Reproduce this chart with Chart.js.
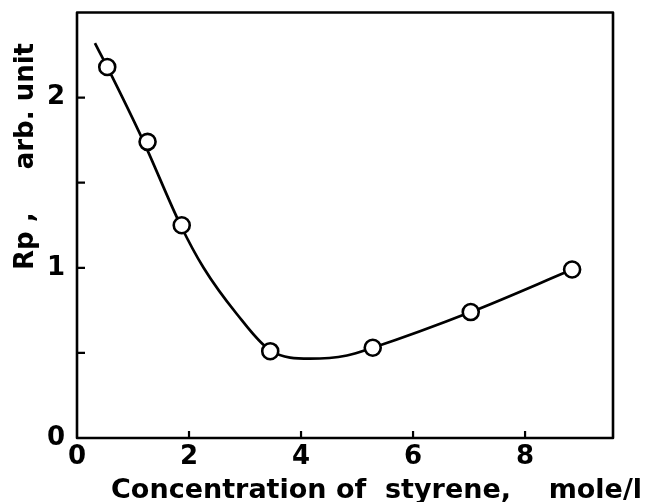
<!DOCTYPE html>
<html lang="en">
<head>
<meta charset="UTF-8">
<title>Rp vs concentration of styrene</title>
<script src="https://cdn.jsdelivr.net/npm/chart.js"></script>
<style>
  html, body { margin: 0; padding: 0; background: #fff; }
  #wrap { width: 645px; height: 502px; }
</style>
</head>
<body>
<div id="wrap"><canvas id="rpChart"></canvas></div>
<script>
// measured points (open circles)
const concPts = [0.54, 1.26, 1.87, 3.45, 5.28, 7.03, 8.84];
const rpPts   = [2.18, 1.74, 1.25, 0.51, 0.53, 0.74, 0.99];
// the drawn fit curve (it does not hit every circle centre)
const concCurve = [0.32, 0.54, 1.19, 1.85, 2.26, 2.85, 3.45, 4.16, 4.82, 5.28, 7.03, 8.84];
const rpCurve   = [2.32, 2.18, 1.74, 1.25, 1.00, 0.73, 0.515, 0.466, 0.485, 0.53, 0.74, 0.99];
// labelled ticks
const xTicks = [0, 2, 4, 6, 8];
const yTicks = [0, 1, 2];

const FONT = '"DejaVu Sans", sans-serif';

// box around the plot, inward tick marks and the two axis titles
const framePlugin = {
  id: 'frame',
  afterDraw(chart) {
    const ctx = chart.ctx;
    const a = chart.chartArea;
    const xs = chart.scales.x, ys = chart.scales.y;
    ctx.save();
    ctx.strokeStyle = '#000';
    ctx.lineWidth = 2.6;
    ctx.lineJoin = 'round';
    ctx.strokeRect(a.left, a.top, a.right - a.left, a.bottom - a.top);

    ctx.lineWidth = 2.2;
    ctx.beginPath();
    xs.ticks.forEach(t => {
      if (t.value <= xs.min) return;
      const px = xs.getPixelForValue(t.value);
      ctx.moveTo(px, a.bottom);
      ctx.lineTo(px, a.bottom - 7);
    });
    ys.ticks.forEach(t => {
      if (t.value <= ys.min || t.value >= ys.max) return;
      const py = ys.getPixelForValue(t.value);
      ctx.moveTo(a.left, py);
      ctx.lineTo(a.left + 8, py);
    });
    ctx.stroke();

    ctx.fillStyle = '#000';
    ctx.font = 'bold 27px ' + FONT;
    ctx.textBaseline = 'alphabetic';
    ctx.textAlign = 'right';
    ctx.fillText('Concentration of  styrene,    mole/l', a.right + 29, 498);

    ctx.font = 'bold 26px ' + FONT;
    ctx.translate(33, 270);
    ctx.rotate(-Math.PI / 2);
    ctx.textAlign = 'left';
    ctx.fillText('Rp ,', 0, 0);
    ctx.textAlign = 'right';
    ctx.fillText('arb. unit', 227, 0);
    ctx.restore();
  }
};

function fixBox(w, h) {
  return s => {
    if (w) s.width = w;
    if (h) s.height = h;
    s.paddingTop = s.paddingBottom = s.paddingLeft = s.paddingRight = 0;
  };
}

new Chart(document.getElementById('rpChart'), {
  type: 'scatter',
  data: {
    datasets: [
      {
        label: 'Rp',
        data: concPts.map((x, i) => ({ x, y: rpPts[i] })),
        showLine: false,
        pointStyle: 'circle',
        pointRadius: 8,
        pointBorderWidth: 2.6,
        pointBorderColor: '#000',
        pointBackgroundColor: '#fff',
        order: 0
      },
      {
        label: 'fit',
        data: concCurve.map((x, i) => ({ x, y: rpCurve[i] })),
        showLine: true,
        borderColor: '#000',
        borderWidth: 2.7,
        pointRadius: 0,
        cubicInterpolationMode: 'monotone',
        order: 1
      }
    ]
  },
  options: {
    responsive: true,
    maintainAspectRatio: false,
    animation: false,
    layout: { padding: { top: 12.5, right: 32, left: 0, bottom: 0 } },
    plugins: { legend: { display: false }, tooltip: { enabled: false } },
    scales: {
      x: {
        type: 'linear',
        min: 0, max: 9.57,
        grid: { display: false, drawTicks: false },
        border: { display: false },
        ticks: {
          stepSize: 2,
          includeBounds: false,
          padding: 6,
          color: '#000',
          font: { family: FONT, size: 26, weight: 'bold', lineHeight: 1 },
          callback: v => xTicks.includes(v) ? String(v) : ''
        },
        afterFit: fixBox(0, 64)
      },
      y: {
        min: 0, max: 2.5,
        grid: { display: false, drawTicks: false },
        border: { display: false },
        ticks: {
          stepSize: 0.5,
          padding: 12,
          color: '#000',
          font: { family: FONT, size: 26, weight: 'bold', lineHeight: 1 },
          callback: v => yTicks.includes(v) ? String(v) : ''
        },
        afterFit: fixBox(77, 0)
      }
    }
  },
  plugins: [framePlugin]
});
</script>
</body>
</html>
